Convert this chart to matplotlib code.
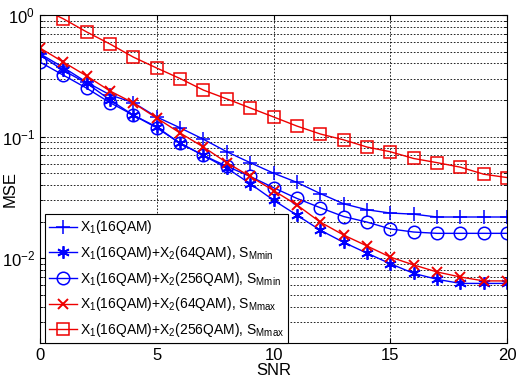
import matplotlib
matplotlib.use("Agg")
import matplotlib.pyplot as plt
import numpy as np

plt.rcParams["font.family"] = ["Liberation Sans", "DejaVu Sans"]
plt.rcParams["mathtext.default"] = "regular"

snr = list(range(0, 21))

x1_16qam = [0.48, 0.37, 0.28, 0.22, 0.19, 0.145, 0.118, 0.095, 0.075, 0.061,
            0.050, 0.042, 0.034, 0.028, 0.025, 0.0235, 0.023, 0.0218, 0.0218, 0.0218, 0.0218]
mmin_64 = [0.47, 0.35, 0.275, 0.20, 0.15, 0.12, 0.088, 0.070, 0.055, 0.041,
           0.030, 0.0226, 0.017, 0.0135, 0.011, 0.009, 0.0075, 0.0067, 0.0062, 0.0062, 0.0062]
mmin_256 = [0.41, 0.32, 0.25, 0.19, 0.15, 0.118, 0.088, 0.070, 0.057, 0.047,
            0.038, 0.031, 0.026, 0.022, 0.0198, 0.0174, 0.0164, 0.016, 0.016, 0.016, 0.016]
mmax_64 = [0.535, 0.41, 0.315, 0.237, 0.189, 0.142, 0.107, 0.082, 0.061, 0.047,
           0.036, 0.0274, 0.0198, 0.0155, 0.0126, 0.0102, 0.0088, 0.0077, 0.0070, 0.0065, 0.0065]
mmax_256 = [1.15, 0.93, 0.725, 0.577, 0.45, 0.366, 0.30, 0.241, 0.204, 0.172,
            0.145, 0.122, 0.105, 0.094, 0.082, 0.075, 0.066, 0.061, 0.056, 0.049, 0.046]

labels = [
    "X$_1$(16QAM)",
    "X$_1$(16QAM)+X$_2$(64QAM), S$_{Mmin}$",
    "X$_1$(16QAM)+X$_2$(256QAM), S$_{Mmin}$",
    "X$_1$(16QAM)+X$_2$(64QAM), S$_{Mmax}$",
    "X$_1$(16QAM)+X$_2$(256QAM), S$_{Mmax}$",
]

fig = plt.figure(figsize=(5.18, 3.83), dpi=100)
ax = fig.add_axes([0.077, 0.104, 0.902, 0.857])

blue = "#0000ff"
red = "#ee0000"
ax.plot(snr, x1_16qam, color=blue, marker="+", ms=10, mew=1.1, lw=1.0, label=labels[0])
ax.plot(snr, mmin_64, color=blue, marker=(6, 2, 0), ms=9, mew=1.3, lw=1.0, label=labels[1])
ax.plot(snr, mmin_256, color=blue, marker="o", ms=9, mfc="none", mew=1.1, lw=1.0, label=labels[2])
ax.plot(snr, mmax_64, color=red, marker="x", ms=7, mew=1.4, lw=1.0, label=labels[3])
ax.plot(snr, mmax_256, color=red, marker="s", ms=9, mfc="none", mew=1.1, lw=1.0, label=labels[4])

ax.set_yscale("log")
ax.set_xlim(0, 20)
ax.set_ylim(2e-3, 1)
ax.set_xticks([0, 5, 10, 15, 20])
ax.set_xlabel("SNR", fontsize=12, labelpad=0)
ax.set_ylabel("MSE", fontsize=12)
ax.yaxis.set_label_coords(-0.048, 0.47)
ax.tick_params(which="both", direction="in", labelsize=12, top=True, right=True)
ax.grid(True, which="major", color="black", ls=(0, (2, 2)), lw=0.6)
ax.grid(True, which="minor", axis="y", color="black", ls=(0, (2, 2)), lw=0.6)
for s in ax.spines.values():
    s.set_linewidth(0.8)

leg = ax.legend(loc="lower left", bbox_to_anchor=(0.011, 0.0), fontsize=10,
                fancybox=False, framealpha=1, edgecolor="black",
                handlelength=2.0, handletextpad=0.2, borderpad=0.3,
                labelspacing=0.55, borderaxespad=0)
leg.get_frame().set_linewidth(0.8)

fig.savefig("out.png", dpi=100)
